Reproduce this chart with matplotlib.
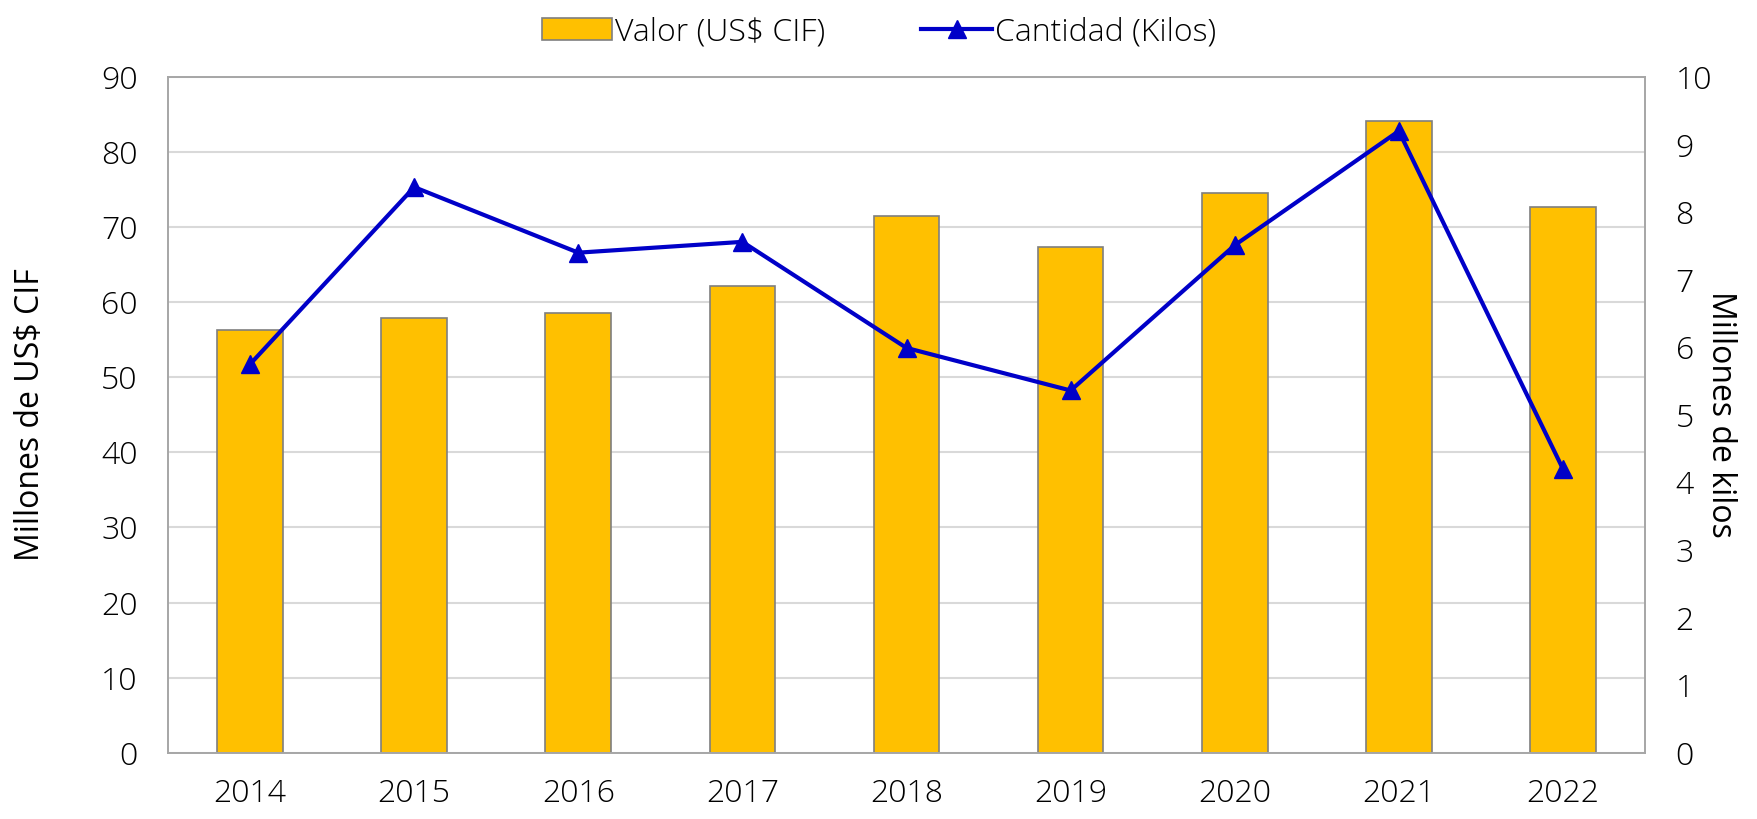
import numpy as np
import matplotlib.pyplot as plt

plt.rcParams['font.family'] = ['Open Sans', 'DejaVu Sans']
plt.rcParams['font.weight'] = 'light'

years = ['2014', '2015', '2016', '2017', '2018', '2019', '2020', '2021', '2022']
valor = [56.3, 57.9, 58.5, 62.1, 71.5, 67.3, 74.5, 84.2, 72.7]
cantidad = [5.75, 8.37, 7.40, 7.56, 5.99, 5.36, 7.51, 9.20, 4.20]

x = np.arange(len(years))

fig, ax = plt.subplots(figsize=(17.58, 8.19), dpi=100)
fig.subplots_adjust(left=0.0956, right=0.9357, top=0.906, bottom=0.081)

bars = ax.bar(x, valor, width=0.4, color='#FFC000', edgecolor='#7F7F7F',
              linewidth=1.2, label='Valor (US$ CIF)', zorder=2)
ax.set_ylim(0, 90)
ax.set_yticks(range(0, 91, 10))
ax.set_xlim(-0.5, len(years) - 0.5)
ax.set_xticks(x)
ax.set_xticklabels(years)
ax.yaxis.grid(True, color='#D9D9D9', linewidth=1.5, zorder=0)
ax.set_axisbelow(True)
ax.tick_params(axis='y', length=0, labelsize=23, pad=22)
ax.tick_params(axis='x', length=0, labelsize=23, pad=18)
ax.set_ylabel('Millones de US$ CIF', fontsize=23, va='center', ha='center')
ax.yaxis.set_label_coords(-0.093, 0.5)

ax2 = ax.twinx()
line, = ax2.plot(x, cantidad, color='#0000C8', linewidth=3, marker='^',
                 markersize=13, label='Cantidad (Kilos)', zorder=3)
ax2.set_ylim(0, 10)
ax2.set_yticks(range(0, 11))
ax2.tick_params(axis='y', length=0, labelsize=23, pad=22)
ax2.set_ylabel('Millones de kilos', fontsize=23, rotation=270, va='center',
               ha='center')
ax2.yaxis.set_label_coords(1.051, 0.5)

for a in (ax, ax2):
    for side in a.spines.values():
        side.set_color('#A6A6A6')
        side.set_linewidth(1.2)

fig.legend([bars, line], ['Valor (US$ CIF)', 'Cantidad (Kilos)'],
           loc='upper center', bbox_to_anchor=(0.5, 1.015), ncol=2,
           frameon=False, fontsize=23, handlelength=2.2, handletextpad=0.1,
           columnspacing=3)

fig.savefig('out.png')
